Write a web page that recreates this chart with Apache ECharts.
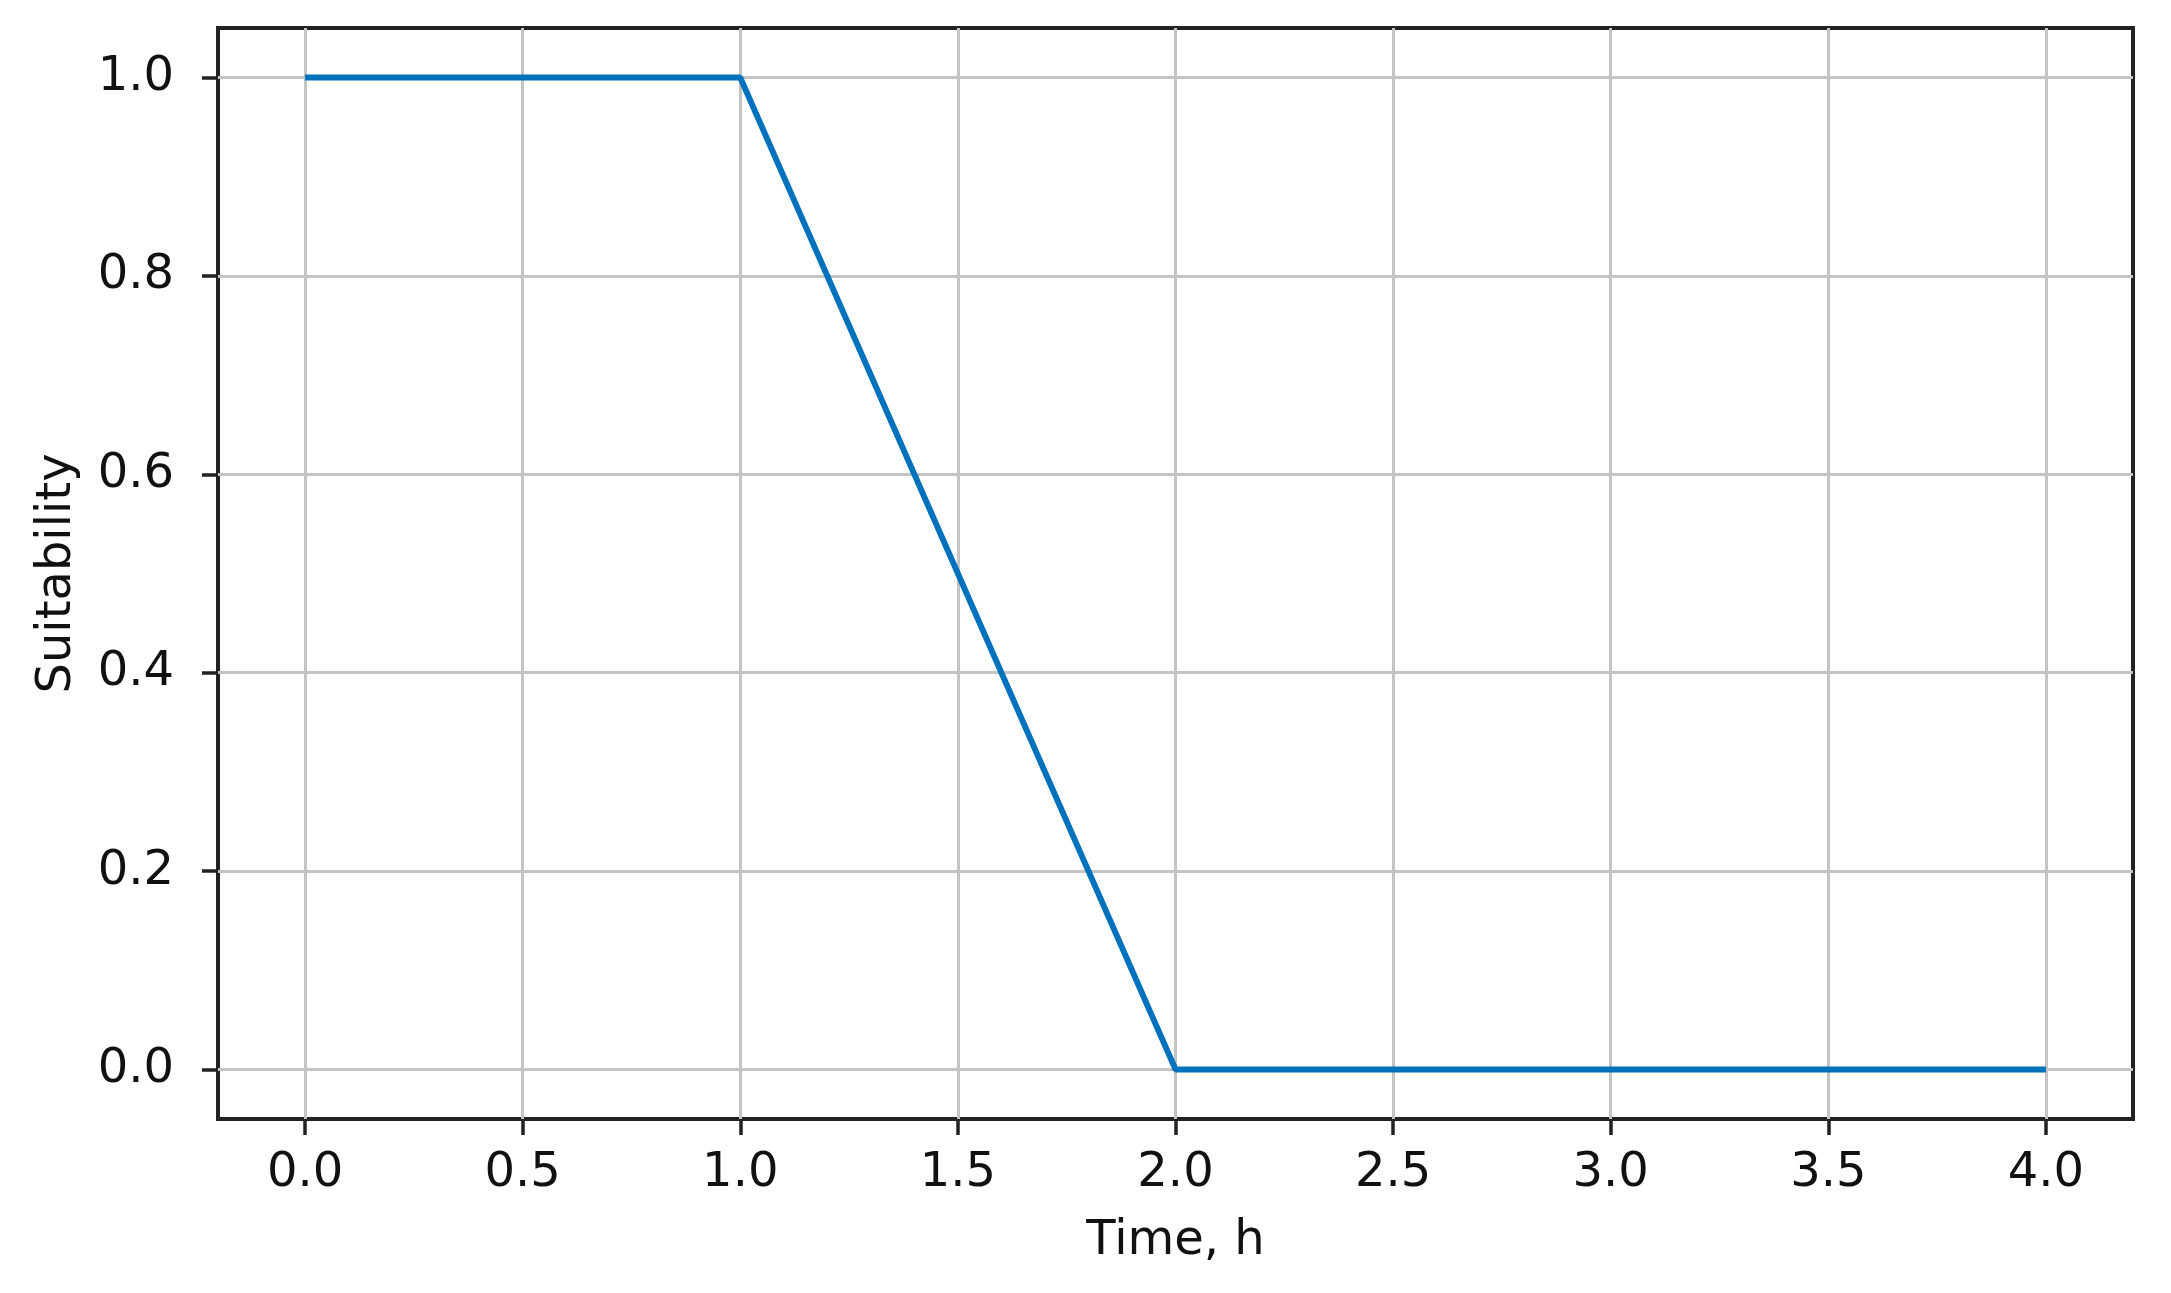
<!DOCTYPE html>
<html lang="en">

<head>
    <meta charset="utf-8">
    <title>Suitability</title>
    <script src="https://cdn.jsdelivr.net/npm/echarts@6/dist/echarts.min.js"></script>
    <style>
        html, body { margin: 0; padding: 0; background: #fff; }
        #chart { width: 2171px; height: 1293px; }
    </style>
</head>

<body>
    <div id="chart"></div>
    <script type="text/javascript">
        // data
        var timeH = [0, 1, 2, 4];
        var suitability = [1, 1, 0, 0];
        var xTicks = [0, 0.5, 1, 1.5, 2, 2.5, 3, 3.5, 4];
        var yTicks = [0, 0.2, 0.4, 0.6, 0.8, 1.0];

        var points = [];
        for (var i = 0; i < timeH.length; i++) {
            points.push([timeH[i], suitability[i]]);
        }

        var font = 'DejaVu Sans';
        var ink = '#111';
        var size = 48;

        var myChart = echarts.init(document.getElementById('chart'));
        var option = {
            animation: false,
            grid: {
                left: 218,
                right: 38,
                top: 28,
                bottom: 174,
                show: true,
                borderColor: '#222',
                borderWidth: 4,
                backgroundColor: 'transparent'
            },
            xAxis: {
                type: 'value',
                min: -0.2,
                max: 4.2,
                name: 'Time, h',
                nameLocation: 'middle',
                nameGap: 99,
                nameTextStyle: { fontFamily: font, fontSize: size, color: ink },
                axisLine: { show: false, onZero: false },
                axisTick: {
                    show: true, inside: false, length: 16,
                    customValues: xTicks,
                    lineStyle: { color: '#222', width: 3.5 }
                },
                axisLabel: {
                    customValues: xTicks,
                    margin: 31,
                    fontFamily: font, fontSize: size, color: ink,
                    formatter: function (v) { return v.toFixed(1); }
                },
                splitLine: { show: true, lineStyle: { color: '#c4c4c4', width: 3 } }
            },
            yAxis: {
                type: 'value',
                min: -0.05,
                max: 1.05,
                name: 'Suitability',
                nameLocation: 'middle',
                nameGap: 136,
                nameTextStyle: { fontFamily: font, fontSize: size, color: ink },
                axisLine: { show: false, onZero: false },
                axisTick: {
                    show: true, inside: false, length: 16,
                    customValues: yTicks,
                    lineStyle: { color: '#222', width: 3.5 }
                },
                axisLabel: {
                    customValues: yTicks,
                    margin: 44,
                    fontFamily: font, fontSize: size, color: ink,
                    formatter: function (v) { return v.toFixed(1); }
                },
                splitLine: { show: true, lineStyle: { color: '#c4c4c4', width: 3 } }
            },
            series: [{
                type: 'line',
                data: points,
                showSymbol: false,
                lineStyle: { color: '#0072bd', width: 6 },
                itemStyle: { color: '#0072bd' }
            }]
        };
        myChart.setOption(option);
    </script>
</body>

</html>
